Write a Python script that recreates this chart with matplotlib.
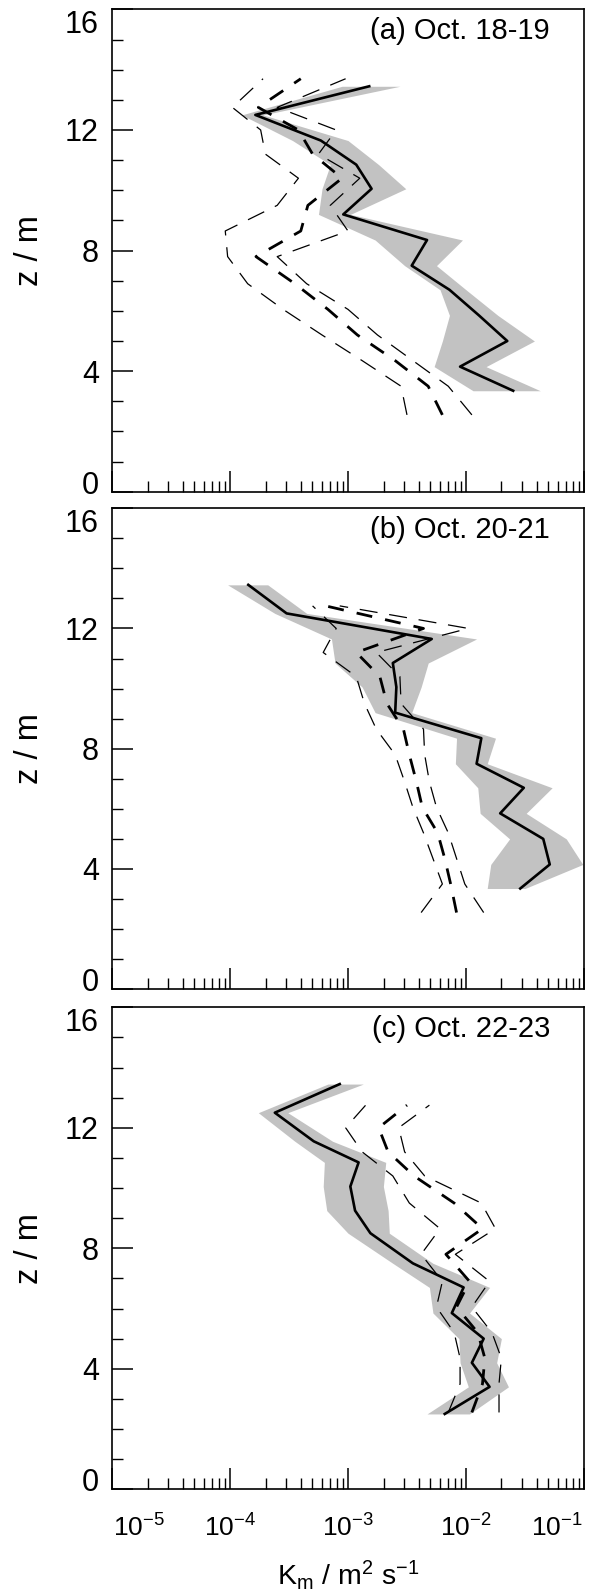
import numpy as np
import matplotlib
matplotlib.use("Agg")
import matplotlib.pyplot as plt
from matplotlib.ticker import LogLocator, MultipleLocator, NullFormatter
from matplotlib.transforms import ScaledTranslation

plt.rcParams["font.family"] = ["Liberation Sans", "DejaVu Sans"]
plt.rcParams["mathtext.fontset"] = "custom"
plt.rcParams["mathtext.rm"] = "Liberation Sans"
plt.rcParams["mathtext.it"] = "Liberation Sans:italic"
plt.rcParams["lines.scale_dashes"] = False

# ---------------------------------------------------------------------------
# Profile data: heights z (m) and log10 of K_m (m^2 s^-1)
# ---------------------------------------------------------------------------
# levels of the solid profiles (panels a and b)
z_solid = [3.35, 4.15, 5.0, 5.85, 6.7, 7.5, 8.35, 9.2, 10.05, 10.85, 11.65, 12.5, 13.45]
# levels of the solid profile in panel c (one extra level at the bottom)
z_solid_c = [2.5, 3.4, 4.2, 5.0, 5.85, 6.7, 7.5, 8.5, 9.25, 10.05, 10.85, 11.55, 12.5, 13.45]
# levels of the dashed profiles
z_dash = [2.55, 3.5, 4.35, 5.2, 6.05, 6.9, 7.8, 8.65, 9.5, 10.4, 11.2, 12.0, 12.75, 13.7]

# (a) Oct. 18-19
a_solid = [-1.60, -2.05, -1.65, -1.89, -2.14, -2.46, -2.33, -3.04, -2.80, -2.93, -3.23, -3.785, -2.82]
a_low   = [-1.94, -2.27, -2.20, -2.14, -2.22, -2.52, -2.77, -3.25, -3.22, -3.15, -3.47, -3.90, -3.05]
a_high  = [-1.37, -1.83, -1.42, -1.73, -2.00, -2.25, -2.03, -2.98, -2.51, -2.74, -3.00, -3.72, -2.56]
a_dash_mid   = [-2.20, -2.32, -2.60, -2.92, -3.17, -3.45, -3.78, -3.40, -3.34, -3.05, -3.30, -3.42, -3.76, -3.40]
a_dash_left  = [-2.50, -2.55, -2.88, -3.22, -3.55, -3.85, -4.02, -4.04, -3.60, -3.42, -3.70, -3.74, -3.98, -3.72]
a_dash_right = [-1.95, -2.15, -2.45, -2.75, -3.00, -3.35, -3.60, -3.00, -3.15, -2.90, -3.25, -3.10, -3.60, -3.02]

# (b) Oct. 20-21
b_solid = [-1.54, -1.29, -1.345, -1.71, -1.51, -1.91, -1.87, -2.60, -2.59, -2.62, -2.29, -3.52, -3.845]
b_low   = [-1.82, -1.79, -1.63, -1.88, -1.90, -2.09, -2.08, -2.77, -2.88, -3.11, -3.14, -3.62, -4.02]
b_high  = [-1.50, -1.01, -1.15, -1.49, -1.27, -1.82, -1.75, -2.46, -2.38, -2.32, -1.91, -3.35, -3.68]
b_dash_mid   = [-2.08, -2.13, -2.18, -2.24, -2.37, -2.42, -2.48, -2.53, -2.67, -2.73, -2.93, -2.36, -3.19]
b_dash_left  = [-2.38, -2.20, -2.28, -2.36, -2.45, -2.52, -2.60, -2.76, -2.86, -2.93, -3.21, -3.10, -3.30]
b_dash_right = [-1.85, -2.01, -2.08, -2.15, -2.25, -2.31, -2.35, -2.36, -2.55, -2.56, -2.76, -1.98, -3.07]

# (c) Oct. 22-23
c_solid = [-2.18, -1.80, -1.95, -1.85, -2.12, -2.02, -2.45, -2.81, -2.94, -2.98, -2.91, -3.29, -3.62, -3.07]
c_low   = [-2.33, -1.98, -2.05, -2.06, -2.28, -2.31, -2.62, -3.00, -3.18, -3.21, -3.20, -3.45, -3.76, -3.17]
c_high  = [-1.97, -1.64, -1.74, -1.70, -1.97, -1.80, -2.28, -2.65, -2.66, -2.70, -2.68, -3.13, -3.51, -2.87]
c_dash_mid   = [-1.95, -1.86, -1.84, -1.90, -2.08, -1.97, -2.17, -1.86, -2.10, -2.44, -2.66, -2.74, -2.50]
c_dash_left  = [-2.15, -2.05, -2.05, -2.10, -2.25, -2.20, -2.38, -2.22, -2.48, -2.62, -2.88, -3.02, -2.85]
c_dash_right = [-1.72, -1.72, -1.70, -1.78, -1.95, -1.80, -2.09, -1.75, -1.87, -2.35, -2.52, -2.57, -2.31]

panel_titles = ["(a) Oct. 18-19", "(b) Oct. 20-21", "(c) Oct. 22-23"]
y_ticks = [0, 4, 8, 12, 16]
x_ticks = [1e-5, 1e-4, 1e-3, 1e-2, 1e-1]
x_ticklabels = [r"$\mathregular{10^{-5}}$", r"$\mathregular{10^{-4}}$",
                r"$\mathregular{10^{-3}}$", r"$\mathregular{10^{-2}}$",
                r"$\mathregular{10^{-1}}$"]

panels = [
    dict(z=z_solid, solid=a_solid, low=a_low, high=a_high,
         zd=z_dash, mid=a_dash_mid, left=a_dash_left, right=a_dash_right),
    dict(z=z_solid, solid=b_solid, low=b_low, high=b_high,
         zd=z_dash[:13], mid=b_dash_mid, left=b_dash_left, right=b_dash_right),
    dict(z=z_solid_c, solid=c_solid, low=c_low, high=c_high,
         zd=z_dash[:13], mid=c_dash_mid, left=c_dash_left, right=c_dash_right),
]

# ---------------------------------------------------------------------------
fig = plt.figure(figsize=(5.91, 15.94), dpi=100)
rects = [
    (0.1895, 0.6915, 0.7986, 0.3026),
    (0.1895, 0.3794, 0.7986, 0.3018),
    (0.1895, 0.0657, 0.7986, 0.3024),
]
label_y_centres = [0.8428, 0.5302, 0.2169]
band_colour = "#c2c2c2"

for i, (rect, p, title) in enumerate(zip(rects, panels, panel_titles)):
    ax = fig.add_axes(rect)
    ax.set_xscale("log")

    z = np.asarray(p["z"])
    ax.fill_betweenx(z, 10.0 ** np.asarray(p["low"]), 10.0 ** np.asarray(p["high"]),
                     color=band_colour, lw=0, zorder=1)

    zd = np.asarray(p["zd"])
    for key in ("left", "right"):
        ax.plot(10.0 ** np.asarray(p[key]), zd, color="k", lw=0.9,
                dashes=(13, 8.5), zorder=2)
    ax.plot(10.0 ** np.asarray(p["mid"]), zd, color="k", lw=2.0,
            dashes=(11.5, 9.5), zorder=3)
    ax.plot(10.0 ** np.asarray(p["solid"]), z, color="k", lw=1.9, zorder=4)

    ax.set_xlim(1e-5, 1e-1)
    ax.set_ylim(0, 16)

    ax.xaxis.set_major_locator(LogLocator(base=10, numticks=10))
    ax.xaxis.set_minor_locator(LogLocator(base=10, subs=np.arange(2, 10), numticks=100))
    ax.xaxis.set_minor_formatter(NullFormatter())
    ax.yaxis.set_major_locator(MultipleLocator(4))
    ax.yaxis.set_minor_locator(MultipleLocator(1))

    ax.tick_params(which="both", direction="in", top=False, right=False)
    ax.tick_params(which="major", length=15, width=1.1)
    ax.tick_params(which="minor", length=8, width=1.0)
    ax.tick_params(axis="y", which="major", pad=9.5)
    for s in ax.spines.values():
        s.set_linewidth(1.2)

    ax.set_yticks(y_ticks)
    ax.set_yticklabels([str(v) for v in y_ticks], fontsize=22)
    ylabs = ax.get_yticklabels()
    ylabs[0].set_transform(ylabs[0].get_transform() +
                           ScaledTranslation(0, 0.097, fig.dpi_scale_trans))
    ylabs[-1].set_transform(ylabs[-1].get_transform() +
                            ScaledTranslation(0, -0.125, fig.dpi_scale_trans))

    if i == 2:
        ax.set_xticks(x_ticks)
        ax.set_xticklabels(x_ticklabels, fontsize=19)
        ax.tick_params(axis="x", which="major", pad=18)
        xlabs = ax.get_xticklabels()
        xlabs[0].set_transform(xlabs[0].get_transform() +
                               ScaledTranslation(0.27, 0, fig.dpi_scale_trans))
        xlabs[-1].set_transform(xlabs[-1].get_transform() +
                                ScaledTranslation(-0.27, 0, fig.dpi_scale_trans))
    else:
        ax.tick_params(axis="x", labelbottom=False)

    ax.text(0.928, 0.9556, title, transform=ax.transAxes, ha="right", va="center",
            fontsize=21)

    fig.text(30 / 591, label_y_centres[i], "z / m", rotation=90, ha="center",
             va="center", fontsize=23.5)

fig.text(348 / 591, 1 - 1575 / 1594, r"$\mathregular{K_m\ /\ m^2\ s^{-1}}$",
         ha="center", va="center", fontsize=20.5)

fig.savefig("out.png", dpi=100)
